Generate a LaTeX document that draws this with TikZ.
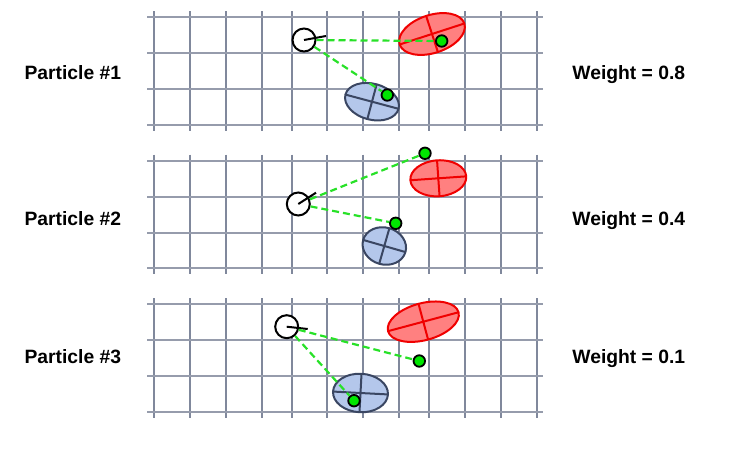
\documentclass[tikz,border=0pt]{standalone}
\usepackage{fontspec}
\setmainfont{Liberation Sans}
\usepackage{tikz}
\usetikzlibrary{shapes.geometric}
\definecolor{pfgridh}{RGB}{150,156,172}
\definecolor{pfgridv}{RGB}{128,136,156}
\definecolor{pfpink}{RGB}{255,128,128}
\definecolor{pfred}{RGB}{240,0,0}
\definecolor{pfblue}{RGB}{180,199,235}
\definecolor{pfslate}{RGB}{58,70,98}
\definecolor{pfgreen}{RGB}{0,230,0}
\definecolor{pfray}{RGB}{40,225,40}
\tikzset{
  hline/.style={pfgridh, line width=2pt},
  vline/.style={pfgridv, line width=1.4pt},
  redmark/.style={ellipse, draw=pfred, fill=pfpink, line width=2pt, inner sep=0pt, outer sep=0pt},
  redaxis/.style={pfred, line width=2pt},
  bluemark/.style={ellipse, draw=pfslate, fill=pfblue, line width=2pt, inner sep=0pt, outer sep=0pt},
  blueaxis/.style={pfslate, line width=2pt},
  robotnode/.style={circle, draw, fill=white, line width=2pt, minimum size=23pt, inner sep=0pt},
  heading/.style={line width=2pt},
  featnode/.style={circle, draw, fill=pfgreen, line width=1.8pt, minimum size=11.5pt, inner sep=0pt},
  ray/.style={pfray, line width=2.2pt, dash pattern=on 7pt off 4pt},
  labeltext/.style={font=\bfseries\fontsize{19.3}{23}\selectfont, anchor=base, inner sep=0pt}
}
\newcommand{\pfgrid}[1] {
  \foreach \gx in {154,190,226,262,292,327,363,399,429,465,501,537} \draw [vline] (\gx,#1-6) -- (\gx,#1+113.7);
  \foreach \gy in {0,35.9,71.8,107.7} \draw [hline] (147,#1+\gy) -- (543,#1+\gy);
}
\newcommand{\pfmark}[6] {\node at (#1) (#2) [#3mark, minimum width=#4pt, minimum height=#5pt, rotate=#6] {};
  \draw [#3axis] (#2.west) -- (#2.east) (#2.north) -- (#2.south);}
\newcommand{\pfrobot}[3] {\node at (#1) (#2) [robotnode] {}; \coordinate (#2h) at (#3); \draw [heading] (#2.center) -- (#2h);}
\newcommand{\pfdot}[2] {\node at (#1) (#2) [featnode] {};}
\newcommand{\pfray}[2] {\draw [ray] (#1) -- (#2);}
\begin{document}
\begin{tikzpicture}[x=1pt, y=-1pt]
\useasboundingbox (0,0) rectangle (734,452);

\pfgrid{17.3}
\pfgrid{160.7}
\pfgrid{304.3}

% particle 1
\pfmark{432,34}{m1r}{red}{68}{38}{18}
\pfmark{372,101.7}{m1b}{blue}{55}{36}{-15}
\pfrobot{304,40}{r1}{326,36}
\pfdot{441.7,41}{f1r}
\pfdot{387.3,95}{f1b}
\pfray{r1}{f1r}
\pfray{r1}{f1b}

% particle 2
\pfmark{438.3,178.3}{m2r}{red}{56}{36}{4}
\pfmark{384.3,246}{m2b}{blue}{44}{37}{-16}
\pfrobot{298.3,204}{r2}{316,192.7}
\pfdot{425,153.3}{f2r}
\pfdot{395.7,223.3}{f2b}
\pfray{r2}{f2r}
\pfray{r2}{f2b}

% particle 3
\pfmark{423.3,321.7}{m3r}{red}{73}{37}{15}
\pfmark{360.5,393}{m3b}{blue}{55}{38.5}{-3}
\pfrobot{286.7,326.7}{r3}{307.7,329}
\pfdot{419.3,361}{f3r}
\pfdot{354,400.7}{f3b}
\pfray{r3}{f3r}
\pfray{r3}{f3b}

\node (p1) at (72.8,80) [labeltext] {Particle \#1};
\node (w1) at (628.8,80) [labeltext] {Weight = 0.8};
\node (p2) at (72.8,225) [labeltext] {Particle \#2};
\node (w2) at (628.8,225) [labeltext] {Weight = 0.4};
\node (p3) at (72.8,363.3) [labeltext] {Particle \#3};
\node (w3) at (628.8,363.3) [labeltext] {Weight = 0.1};

\end{tikzpicture}
\end{document}
